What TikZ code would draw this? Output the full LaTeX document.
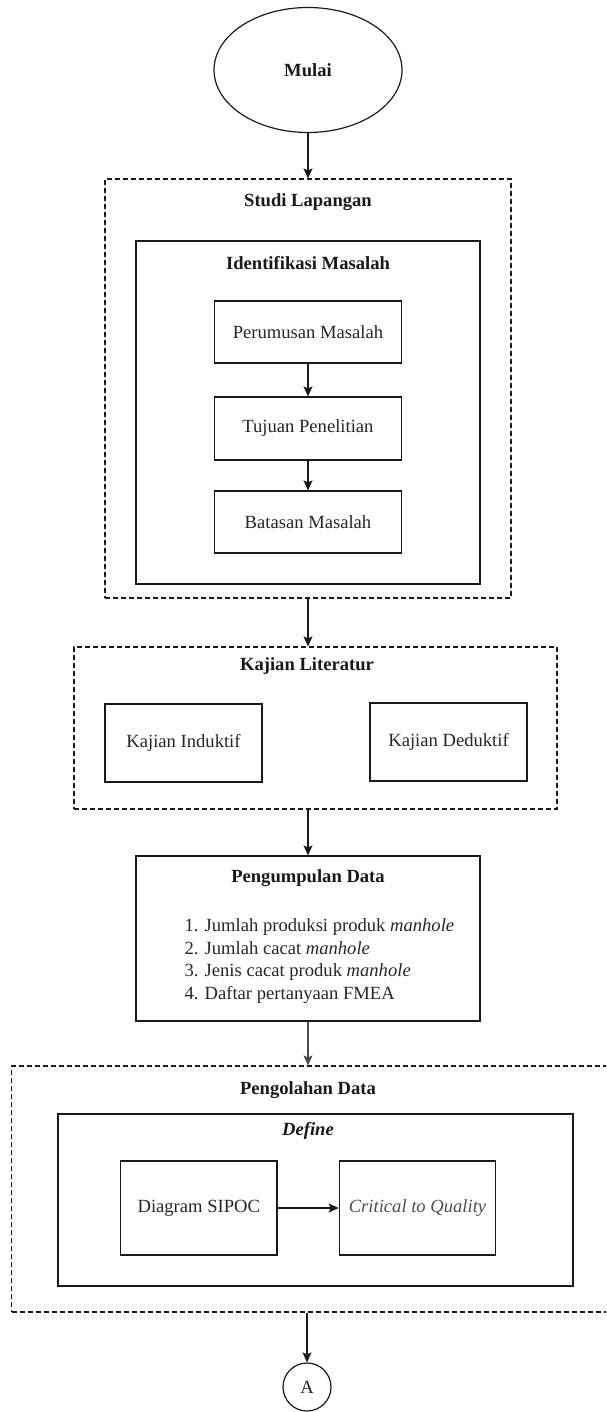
\documentclass[tikz,border=0pt]{standalone}
\usepackage{fontspec}
\setmainfont{Liberation Serif}
\usetikzlibrary{shapes.geometric,arrows.meta}

\tikzset{
  every node/.style={font=\fontsize{18.6}{22.6}\selectfont},
  box/.style={draw=black!90, line width=1.2pt, rectangle, inner sep=0pt, text=black!85},
  group/.style={draw=black!90, line width=1.1pt, rectangle, inner sep=0pt, dash pattern=on 5pt off 3pt},
  frame/.style={draw=black!90, line width=1.2pt, rectangle, inner sep=0pt},
  title/.style={font=\fontsize{18.6}{22.6}\selectfont\bfseries, text=black!90},
  flow/.style={draw=black!90, line width=1.3pt, -{Stealth[length=10pt,width=9pt,inset=2pt]}},
}

\begin{document}
\begin{tikzpicture}[x=1pt, y=-1pt]
  \clip (0,0) rectangle (606,1412);
  \useasboundingbox (0,0) rectangle (606,1412);

  % start terminator
  \node[ellipse, draw=black!90, line width=1.2pt, minimum width=188pt, minimum height=125pt,
        inner sep=0pt, title] (mulai) at (308,70) {Mulai};

  % field study group
  \node[group, minimum width=406pt, minimum height=419pt] (studi) at (308,388.5) {};
  \node[title] (studiT) at (308,202) {Studi Lapangan};
  \node[frame, minimum width=344pt, minimum height=343pt] (ident) at (308,412.5) {};
  \node[title] (identT) at (308,263) {Identifikasi Masalah};
  \node[box, minimum width=187.5pt, minimum height=62pt] (rumus) at (308,332) {Perumusan Masalah};
  \node[box, minimum width=187.5pt, minimum height=63pt] (tujuan) at (308,428.5) {Tujuan Penelitian};
  \node[box, minimum width=187.5pt, minimum height=62pt] (batas) at (308,522) {Batasan Masalah};

  % literature review group
  \node[group, minimum width=483pt, minimum height=162pt] (kajian) at (315.5,728) {};
  \node[title] (kajianT) at (307,666) {Kajian Literatur};
  \node[box, minimum width=157pt, minimum height=78pt] (induktif) at (183.5,743) {Kajian Induktif};
  \node[box, minimum width=157pt, minimum height=78pt] (deduktif) at (448.5,742) {Kajian Deduktif};

  % data collection
  \node[frame, minimum width=344pt, minimum height=165pt] (kumpul) at (308,938.5) {};
  \node[title] (kumpulT) at (308,878) {Pengumpulan Data};
  \node[anchor=west, align=left, text=black!85, font=\fontsize{18.6}{22.6}\selectfont] (daftar) at (181,961)
    {1. Jumlah produksi produk \textit{manhole}\\
     2. Jumlah cacat \textit{manhole}\\
     3. Jenis cacat produk \textit{manhole}\\
     4. Daftar pertanyaan FMEA};

  % data processing group
  \node[group, minimum width=607pt, minimum height=246pt] (olah) at (315,1189) {};
  \node[title] (olahT) at (308,1090) {Pengolahan Data};
  \node[frame, minimum width=515pt, minimum height=172pt] (define) at (315.5,1200) {};
  \node[title, font=\fontsize{18.6}{22.6}\selectfont\bfseries\itshape] (defineT) at (308,1131) {Define};
  \node[box, minimum width=156.5pt, minimum height=94pt] (sipoc) at (198.8,1208) {Diagram SIPOC};
  \node[box, minimum width=156.5pt, minimum height=94pt, text=black!70,
        font=\fontsize{18.6}{22.6}\selectfont\itshape] (ctq) at (417.5,1208) {Critical to Quality};

  % off-page connector
  \node[circle, draw=black!90, line width=1.2pt, minimum size=48pt, inner sep=0pt, text=black!85] (A) at (307,1387) {A};

  % connectors
  \draw[flow] (mulai.south) -- (mulai.south |- studi.north);
  \draw[flow] (rumus) -- (tujuan);
  \draw[flow] (tujuan) -- (batas);
  \draw[flow] (studi.south) -- (studi.south |- kajian.north);
  \draw[flow] (studi.south |- kajian.south) -- (studi.south |- kumpul.north);
  \draw[flow, draw=black!70] (kumpul.south) -- (kumpul.south |- olah.north);
  \draw[flow] (sipoc) -- (ctq);
  \draw[flow] (A.north |- olah.south) -- (A.north);
\end{tikzpicture}
\end{document}
